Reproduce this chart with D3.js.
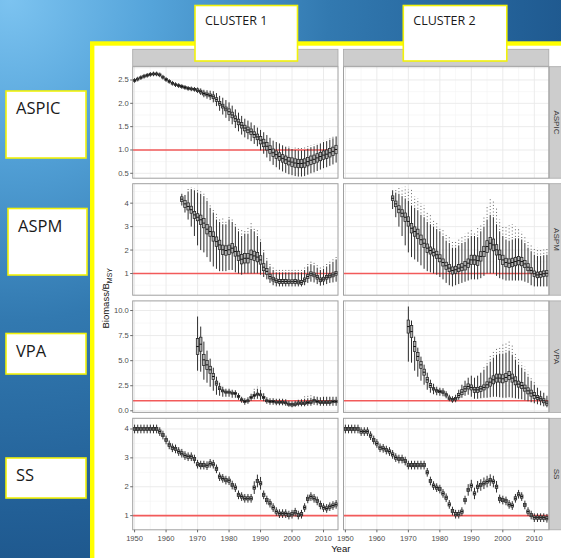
<!DOCTYPE html>
<html><head><meta charset="utf-8">
<script src="https://cdn.jsdelivr.net/npm/d3@7"></script>
<style>body{margin:0;overflow:hidden;background:#2a6ea4}</style></head>
<body><script>
// ---------------- DATA ----------------
const rowNames = ["ASPIC", "ASPM", "VPA", "SS"];
const colNames = ["CLUSTER 1", "CLUSTER 2"];
const xTicks = [1950, 1960, 1970, 1980, 1990, 2000, 2010];
const yTicks = [[0.5, 1.0, 1.5, 2.0, 2.5], [1, 2, 3, 4], [0, 2.5, 5, 7.5, 10], [1, 2, 3, 4]];
const yTickFmt = [".1f", "d", ".1f", "d"];
const refLine = 1;

// ASPIC, cluster 1 (1950-2014)
const aspicC1Med = [2.49,2.52,2.55,2.58,2.60,2.62,2.63,2.63,2.61,2.56,
 2.51,2.47,2.43,2.40,2.38,2.36,2.34,2.32,2.31,2.30,
 2.28,2.25,2.21,2.19,2.17,2.14,2.08,2.00,1.94,1.88,
 1.82,1.75,1.67,1.60,1.53,1.47,1.43,1.39,1.33,1.28,
 1.21,1.15,1.08,1.01,0.94,0.90,0.86,0.82,0.79,0.76,
 0.74,0.72,0.71,0.71,0.72,0.75,0.78,0.80,0.83,0.86,
 0.89,0.91,0.94,0.97,1.01];
const aspicC1Whisker = [0.05,0.05,0.05,0.05,0.05,0.05,0.05,0.05,0.05,0.05,
 0.05,0.05,0.05,0.05,0.05,0.05,0.05,0.05,0.05,0.05,
 0.06,0.07,0.08,0.09,0.10,0.12,0.14,0.16,0.18,0.19,
 0.20,0.20,0.20,0.20,0.20,0.20,0.20,0.20,0.20,0.20,
 0.22,0.23,0.24,0.25,0.26,0.27,0.28,0.28,0.28,0.28,
 0.28,0.28,0.28,0.28,0.28,0.28,0.28,0.28,0.28,0.28,
 0.28,0.28,0.28,0.28,0.28];
const aspicC1Box = [0.02,0.02,0.02,0.02,0.02,0.02,0.02,0.02,0.02,0.02,
 0.02,0.02,0.02,0.02,0.02,0.02,0.02,0.02,0.02,0.02,
 0.03,0.03,0.03,0.03,0.03,0.04,0.04,0.04,0.04,0.04,
 0.06,0.06,0.06,0.06,0.06,0.06,0.06,0.06,0.06,0.06,
 0.08,0.08,0.08,0.08,0.08,0.08,0.08,0.08,0.08,0.08,
 0.09,0.09,0.09,0.09,0.09,0.09,0.09,0.09,0.09,0.09,
 0.09,0.09,0.09,0.09,0.09];
const aspicC1Outlier = [0,0,0,0,0,0,0,0,0,0, 0,0,0,0,0,0,0,0,0,0,
 0,0,0,0,0,0,0,0,0,0, 0,0,0,0,0,0,0,0,0,0, 0,0,0,0,0,
 1.12,1.10,1.08,1.06,1.05,1.05,1.05,1.05,1.05,1.06,
 1.08,1.10,1.12,1.14,1.17,1.20,1.22,1.24,1.26,1.28];

// ASPM, cluster 1 (1965-2014)
const aspmC1Med = [4.17,3.97,3.86,3.72,3.50,3.40,3.29,3.15,2.89,2.79,
 2.58,2.36,2.22,2.01,1.98,2.01,2.08,1.94,1.75,1.61,
 1.65,1.65,1.80,1.75,1.70,1.58,1.27,1.09,0.87,0.76,
 0.69,0.66,0.66,0.66,0.65,0.65,0.66,0.64,0.62,0.73,
 0.87,0.99,0.94,0.84,0.73,0.76,0.84,0.90,0.94,1.01];
const aspmC1Lo = [3.90,3.60,3.30,3.00,2.60,2.20,2.00,1.90,1.70,1.50,
 1.30,1.20,1.10,1.10,1.10,1.15,1.15,1.05,1.00,0.95,
 1.00,1.00,1.00,1.00,1.00,0.95,0.85,0.75,0.60,0.50,
 0.45,0.45,0.45,0.45,0.45,0.45,0.45,0.45,0.45,0.50,
 0.60,0.65,0.62,0.55,0.48,0.50,0.55,0.60,0.62,0.65];
const aspmC1Hi = [4.40,4.35,4.50,4.60,4.55,4.45,4.40,4.30,4.10,3.80,
 3.60,3.30,3.20,3.10,3.10,3.30,3.20,3.00,2.80,2.60,
 2.70,2.70,2.90,2.80,2.60,2.35,1.90,1.55,1.30,1.15,
 1.05,1.05,1.05,1.05,1.05,1.05,1.05,1.05,1.05,1.15,
 1.30,1.40,1.35,1.25,1.15,1.20,1.30,1.40,1.50,1.60];
const aspmC1Box = [0.10,0.15,0.15,0.15,0.15,0.15,0.20,0.20,0.20,0.20,
 0.20,0.20,0.20,0.20,0.20,0.20,0.20,0.20,0.20,0.20,
 0.20,0.20,0.20,0.20,0.20,0.18,0.15,0.12,0.10,0.08,
 0.08,0.08,0.08,0.08,0.08,0.08,0.08,0.08,0.08,0.08,
 0.08,0.08,0.08,0.08,0.08,0.08,0.08,0.08,0.08,0.08];
const aspmC1Outlier = [0,4.30,4.65,4.65,4.60,4.60,4.50,4.40,4.20,4.00,
 3.80,3.60,3.40,3.35,3.30,3.45,3.30,3.15,3.00,2.90,
 2.90,3.00,3.20,3.00,2.85,2.50,2.00,1.70,1.45,1.30,
 1.20,1.20,1.20,1.20,1.20,1.20,1.20,1.20,1.20,1.30,
 1.45,1.55,1.50,1.40,1.30,1.35,1.45,1.55,1.65,1.70];

// ASPM, cluster 2 (1965-2014)
const aspmC2Med = [4.21,3.97,3.74,3.57,3.40,3.22,2.93,2.79,2.69,2.44,
 2.29,2.08,1.98,1.90,1.80,1.65,1.47,1.33,1.23,1.13,
 1.16,1.23,1.27,1.33,1.44,1.58,1.58,1.55,1.73,1.94,
 2.15,2.29,2.22,2.01,1.80,1.58,1.47,1.44,1.47,1.51,
 1.55,1.51,1.41,1.27,1.13,0.99,0.94,0.96,0.99,1.01];
const aspmC2Lo = [3.75,3.40,3.00,2.60,2.20,1.90,1.70,1.60,1.50,1.35,
 1.20,1.10,1.05,1.00,0.95,0.85,0.75,0.60,0.50,0.45,
 0.50,0.55,0.60,0.65,0.70,0.75,0.75,0.75,0.80,0.90,
 1.00,1.00,1.00,0.90,0.80,0.75,0.70,0.70,0.70,0.70,
 0.70,0.70,0.65,0.60,0.50,0.45,0.45,0.45,0.45,0.45];
const aspmC2Hi = [4.55,4.45,4.40,4.30,4.20,4.10,3.90,3.80,3.70,3.50,
 3.40,3.20,3.10,3.00,2.90,2.80,2.60,2.40,2.30,2.10,
 2.10,2.20,2.30,2.35,2.50,2.60,2.60,2.55,2.80,3.00,
 3.30,3.50,3.40,3.10,2.80,2.60,2.45,2.40,2.45,2.50,
 2.50,2.45,2.30,2.10,1.95,1.80,1.75,1.75,1.78,1.80];
const aspmC2Box = [0.10,0.12,0.15,0.15,0.18,0.20,0.20,0.20,0.20,0.20,
 0.18,0.18,0.15,0.15,0.15,0.15,0.15,0.15,0.15,0.15,
 0.15,0.15,0.15,0.18,0.18,0.20,0.20,0.20,0.20,0.22,
 0.25,0.25,0.25,0.22,0.20,0.20,0.18,0.18,0.18,0.18,
 0.18,0.18,0.15,0.15,0.12,0.12,0.12,0.12,0.12,0.12];
const aspmC2Outlier = [0,4.60,4.70,4.65,4.70,4.60,4.60,4.30,4.20,4.00,
 3.90,3.65,3.50,3.30,3.20,3.00,2.85,2.70,2.60,2.40,
 2.35,2.50,2.55,2.70,2.75,2.90,2.80,2.95,3.10,3.40,
 3.90,4.20,4.10,3.80,3.30,3.00,3.00,3.05,3.10,3.00,
 2.90,2.80,2.60,2.40,2.25,2.10,2.10,2.05,2.05,2.05];

// VPA, cluster 1 (1970-2014)
const vpaC1Med = [6.41,6.64,5.08,4.58,4.09,3.42,2.76,2.26,1.99,1.86,
 1.86,1.76,1.73,1.43,1.10,0.93,1.00,1.33,1.53,1.66,
 1.59,1.33,1.00,0.93,0.93,0.86,0.86,0.86,0.80,0.66,
 0.60,0.66,0.76,0.76,0.76,0.83,0.86,1.00,0.93,0.86,
 0.86,0.86,0.86,0.93,0.93];
const vpaC1Lo = [4.00,3.90,3.10,2.80,2.40,2.00,1.60,1.50,1.40,1.40,
 1.40,1.30,1.30,1.10,0.80,0.60,0.70,1.00,1.15,1.20,
 1.10,0.95,0.70,0.60,0.60,0.55,0.55,0.55,0.50,0.40,
 0.35,0.40,0.45,0.45,0.45,0.50,0.50,0.60,0.55,0.50,
 0.50,0.50,0.50,0.50,0.50];
const vpaC1Hi = [9.40,8.40,6.90,6.00,5.20,4.30,3.40,2.80,2.40,2.20,
 2.20,2.10,2.05,1.75,1.40,1.25,1.35,1.70,1.95,2.20,
 2.10,1.75,1.35,1.25,1.25,1.20,1.20,1.20,1.15,1.00,
 0.95,1.00,1.10,1.15,1.20,1.25,1.30,1.45,1.40,1.35,
 1.40,1.40,1.40,1.40,1.40];
const vpaC1Box = [0.80,0.70,0.55,0.45,0.35,0.30,0.20,0.15,0.10,0.10,
 0.10,0.10,0.10,0.10,0.10,0.10,0.10,0.10,0.10,0.10,
 0.10,0.10,0.10,0.10,0.10,0.10,0.10,0.10,0.10,0.10,
 0.12,0.12,0.12,0.12,0.12,0.12,0.12,0.12,0.12,0.12,
 0.12,0.12,0.12,0.12,0.12];
const vpaC1Outlier = [0,0,0,0,0,0,0,0,0,0,
 0,0,0,0,0,0,0,0,2.30,2.40,
 2.30,0,0,0,0,0,0,0,0,0,
 0,0,0,0,1.50,1.55,1.55,1.60,1.55,1.50,
 1.55,1.55,1.55,1.55,1.55];

// VPA, cluster 2 (1970-2014)
const vpaC2Med = [8.40,7.90,6.41,5.42,4.58,3.85,3.09,2.52,2.19,1.99,
 1.93,1.86,1.59,1.26,1.10,1.20,1.53,1.86,2.19,2.43,
 2.33,2.09,2.09,2.19,2.33,2.59,2.86,3.09,3.26,3.26,
 3.19,3.32,3.52,3.26,2.99,2.66,2.52,2.26,1.99,1.76,
 1.53,1.33,1.20,1.00,0.76];
const vpaC2Lo = [4.90,4.80,4.00,3.40,3.00,2.60,2.10,1.80,1.65,1.55,
 1.50,1.45,1.25,0.95,0.80,0.85,1.10,1.30,1.50,1.60,
 1.40,1.20,1.20,1.25,1.30,1.30,1.35,1.40,1.40,1.35,
 1.30,1.30,1.35,1.30,1.25,1.20,1.15,1.05,0.95,0.85,
 0.75,0.65,0.55,0.45,0.35];
const vpaC2Hi = [10.40,9.00,7.40,6.30,5.40,4.60,3.80,3.10,2.70,2.40,
 2.30,2.25,1.95,1.60,1.45,1.60,2.10,2.60,3.00,3.30,
 3.50,3.30,3.50,3.80,4.10,4.50,4.90,5.30,5.60,5.70,
 5.70,5.80,6.00,5.60,5.10,4.60,4.30,3.90,3.40,3.00,
 2.60,2.30,2.00,1.80,1.50];
const vpaC2Box = [0.65,0.60,0.50,0.40,0.35,0.30,0.25,0.20,0.12,0.12,
 0.12,0.12,0.12,0.12,0.12,0.12,0.20,0.25,0.25,0.25,
 0.25,0.25,0.25,0.25,0.25,0.30,0.40,0.40,0.40,0.40,
 0.40,0.40,0.40,0.40,0.40,0.30,0.30,0.30,0.30,0.30,
 0.30,0.20,0.20,0.20,0.20];
const vpaC2Outlier = [0,0,0,0,0,0,0,0,0,0,
 0,0,0,0,0,0,0,0,0,0,
 0,0,0,0,4.40,5.00,5.50,6.00,6.40,6.50,
 6.60,6.80,6.90,6.50,5.90,5.30,4.80,4.40,3.90,3.40,
 3.00,0,0,0,0];

// SS, cluster 1 (1950-2014)
const ssC1Med = [4.00,4.00,4.00,4.00,4.00,4.00,4.00,4.00,3.91,3.79,
 3.62,3.45,3.35,3.31,3.22,3.16,3.08,3.04,3.04,2.96,
 2.78,2.75,2.75,2.73,2.81,2.78,2.62,2.35,2.29,2.23,
 2.21,2.06,1.97,1.72,1.66,1.60,1.60,1.60,1.97,2.20,
 2.12,1.72,1.54,1.43,1.28,1.14,1.07,1.07,1.07,1.02,
 1.05,1.12,1.02,1.05,1.28,1.58,1.66,1.60,1.51,1.37,
 1.28,1.25,1.31,1.35,1.39];
const ssC1Whisker = [0.15,0.15,0.15,0.15,0.15,0.15,0.15,0.15,0.15,0.15,
 0.15,0.15,0.15,0.15,0.15,0.15,0.15,0.15,0.15,0.15,
 0.15,0.15,0.15,0.15,0.15,0.15,0.15,0.15,0.15,0.15,
 0.15,0.15,0.15,0.15,0.15,0.15,0.15,0.15,0.22,0.22,
 0.22,0.15,0.15,0.15,0.15,0.15,0.15,0.15,0.15,0.15,
 0.15,0.15,0.15,0.15,0.15,0.15,0.15,0.15,0.15,0.15,
 0.15,0.15,0.15,0.15,0.15];
const ssC1Box = 0.055;

// SS, cluster 2 (1950-2014)
const ssC2Med = [4.00,4.00,4.00,4.00,4.00,3.91,3.91,3.91,3.77,3.62,
 3.50,3.35,3.33,3.27,3.22,3.12,3.01,2.96,2.96,2.89,
 2.75,2.75,2.75,2.75,2.75,2.75,2.50,2.20,2.04,1.97,
 1.92,1.77,1.62,1.39,1.16,1.05,1.05,1.14,1.54,1.89,
 2.04,1.77,2.00,2.06,2.12,2.18,2.23,2.18,2.00,1.58,
 1.54,1.51,1.39,1.35,1.60,1.74,1.66,1.37,1.14,1.02,
 0.93,0.93,0.93,0.93,0.91];
const ssC2Whisker = [0.15,0.15,0.15,0.15,0.15,0.15,0.15,0.15,0.15,0.15,
 0.15,0.15,0.15,0.15,0.15,0.15,0.15,0.15,0.15,0.15,
 0.15,0.15,0.15,0.15,0.15,0.15,0.15,0.15,0.15,0.15,
 0.15,0.15,0.15,0.15,0.15,0.15,0.15,0.15,0.15,0.20,
 0.20,0.20,0.20,0.20,0.20,0.20,0.20,0.20,0.20,0.15,
 0.15,0.15,0.15,0.15,0.15,0.15,0.15,0.15,0.15,0.15,
 0.15,0.15,0.15,0.15,0.15];
const ssC2Box = 0.055;

// ---------------- BUILD ----------------
function sym(med, wh) { return { lo: med.map((m, i) => m - wh[i]), hi: med.map((m, i) => m + wh[i]) }; }
const aspicC1 = sym(aspicC1Med, aspicC1Whisker);
const ssC1 = sym(ssC1Med, ssC1Whisker);
const ssC2 = sym(ssC2Med, ssC2Whisker);
const panels = [
  { row: 0, col: 0, start: 1950, med: aspicC1Med, lo: aspicC1.lo, hi: aspicC1.hi, box: aspicC1Box, out: aspicC1Outlier },
  { row: 0, col: 1, start: null },
  { row: 1, col: 0, start: 1965, med: aspmC1Med, lo: aspmC1Lo, hi: aspmC1Hi, box: aspmC1Box, out: aspmC1Outlier },
  { row: 1, col: 1, start: 1965, med: aspmC2Med, lo: aspmC2Lo, hi: aspmC2Hi, box: aspmC2Box, out: aspmC2Outlier },
  { row: 2, col: 0, start: 1970, med: vpaC1Med, lo: vpaC1Lo, hi: vpaC1Hi, box: vpaC1Box, out: vpaC1Outlier },
  { row: 2, col: 1, start: 1970, med: vpaC2Med, lo: vpaC2Lo, hi: vpaC2Hi, box: vpaC2Box, out: vpaC2Outlier },
  { row: 3, col: 0, start: 1950, med: ssC1Med, lo: ssC1.lo, hi: ssC1.hi, box: ssC1Box, out: null },
  { row: 3, col: 1, start: 1950, med: ssC2Med, lo: ssC2.lo, hi: ssC2.hi, box: ssC2Box, out: null }
];

// ---------------- LAYOUT ----------------
const W = 561, H = 558;
const colX = [132.7, 343.5], panelW = 205.3;
const rowY = [66.7, 183.7, 300.9, 418.3], panelH = 111.5;
const xDomain = [1949.4, 2014.6];
const yDomains = [[0.395, 2.785], [0.075, 4.83], [-0.16, 10.96], [0.51, 4.37]];
const tickFont = "Liberation Sans, Arial, sans-serif";

const svg = d3.select("body").append("svg").attr("width", W).attr("height", H);
const defs = svg.append("defs");
const rg = defs.append("radialGradient").attr("id", "bg").attr("gradientUnits", "userSpaceOnUse")
  .attr("cx", 10).attr("cy", 0).attr("r", 640);
[[0, "#7cc3f0"], [0.22, "#55a4da"], [0.5, "#3279b0"], [0.8, "#225f96"], [1, "#1a4f83"]]
  .forEach(([o, c]) => rg.append("stop").attr("offset", o).attr("stop-color", c));
svg.append("rect").attr("width", W).attr("height", H).attr("fill", "url(#bg)");

// yellow frame with white interior
svg.append("rect").attr("x", 92.2).attr("y", 43.5).attr("width", 600).attr("height", 600)
  .attr("fill", "#ffffff").attr("stroke", "#ffff00").attr("stroke-width", 4.4);

const g = svg.append("g");

// top strips
colX.forEach(x0 => {
  g.append("rect").attr("x", x0).attr("y", 49.3).attr("width", panelW).attr("height", 16.9)
    .attr("fill", "#cdcdcd").attr("stroke", "#a8a8a8").attr("stroke-width", 0.8);
});
// right strips
rowY.forEach((y0, r) => {
  g.append("rect").attr("x", 549.3).attr("y", y0).attr("width", 17).attr("height", panelH)
    .attr("fill", "#cdcdcd").attr("stroke", "#a8a8a8").attr("stroke-width", 0.8);
  g.append("text").attr("transform", `translate(${556.3},${y0 + panelH / 2}) rotate(90)`)
    .attr("text-anchor", "middle").attr("dominant-baseline", "central")
    .attr("font-family", tickFont).attr("font-size", 8).attr("fill", "#3a3a3a").text(rowNames[r]);
});

const bwYears = 0.8;

panels.forEach(p => {
  const x0 = colX[p.col], y0 = rowY[p.row];
  const xs = d3.scaleLinear().domain(xDomain).range([x0, x0 + panelW]);
  const ys = d3.scaleLinear().domain(yDomains[p.row]).range([y0 + panelH, y0]);
  const pg = g.append("g");
  const clipId = `clip${p.row}${p.col}`;
  defs.append("clipPath").attr("id", clipId).append("rect")
    .attr("x", x0).attr("y", y0).attr("width", panelW).attr("height", panelH);
  pg.append("rect").attr("x", x0).attr("y", y0).attr("width", panelW).attr("height", panelH).attr("fill", "#fff");

  // grid minor
  const yt = yTicks[p.row];
  const ystep = yt[1] - yt[0];
  const yMinor = [];
  yt.forEach(t => { yMinor.push(t - ystep / 2); });
  yMinor.push(yt[yt.length - 1] + ystep / 2);
  const dom = yDomains[p.row];
  const inner = pg.append("g").attr("clip-path", `url(#${clipId})`);
  yMinor.filter(v => v > dom[0] && v < dom[1]).forEach(v => {
    inner.append("line").attr("x1", x0).attr("x2", x0 + panelW).attr("y1", ys(v)).attr("y2", ys(v))
      .attr("stroke", "#f4f4f4").attr("stroke-width", 0.6);
  });
  const xMinor = xTicks.map(t => t + 5).filter(v => v < xDomain[1]);
  xMinor.forEach(v => {
    inner.append("line").attr("x1", xs(v)).attr("x2", xs(v)).attr("y1", y0).attr("y2", y0 + panelH)
      .attr("stroke", "#f4f4f4").attr("stroke-width", 0.6);
  });
  yt.forEach(v => {
    inner.append("line").attr("x1", x0).attr("x2", x0 + panelW).attr("y1", ys(v)).attr("y2", ys(v))
      .attr("stroke", "#e9e9e9").attr("stroke-width", 0.9);
  });
  xTicks.forEach(v => {
    inner.append("line").attr("x1", xs(v)).attr("x2", xs(v)).attr("y1", y0).attr("y2", y0 + panelH)
      .attr("stroke", "#e9e9e9").attr("stroke-width", 0.9);
  });

  if (p.start !== null) {
    // reference line
    inner.append("line").attr("x1", x0).attr("x2", x0 + panelW).attr("y1", ys(refLine)).attr("y2", ys(refLine))
      .attr("stroke", "#f25a5a").attr("stroke-width", 1.6);
    const bw = xs(xDomain[0] + bwYears) - xs(xDomain[0]);
    p.med.forEach((m, i) => {
      const yr = p.start + i, cx = xs(yr);
      const bh = Array.isArray(p.box) ? p.box[i] : p.box;
      if (p.out && p.out[i] > p.hi[i]) {
        inner.append("line").attr("x1", cx).attr("x2", cx).attr("y1", ys(p.hi[i]) - 1.5).attr("y2", ys(p.out[i]))
          .attr("stroke", "#444").attr("stroke-width", 0.9).attr("stroke-dasharray", "0.9,2.4");
      }
      inner.append("line").attr("x1", cx).attr("x2", cx).attr("y1", ys(p.lo[i])).attr("y2", ys(p.hi[i]))
        .attr("stroke", "#2e2e2e").attr("stroke-width", 1);
      inner.append("rect").attr("x", cx - bw / 2).attr("width", bw)
        .attr("y", ys(m + bh)).attr("height", Math.max(0.8, ys(m - bh) - ys(m + bh)))
        .attr("fill", "#b4b4b4").attr("stroke", "#222").attr("stroke-width", 0.75);
      inner.append("line").attr("x1", cx - bw / 2).attr("x2", cx + bw / 2).attr("y1", ys(m)).attr("y2", ys(m))
        .attr("stroke", "#111").attr("stroke-width", 1);
    });
  }
  // border
  pg.append("rect").attr("x", x0).attr("y", y0).attr("width", panelW).attr("height", panelH)
    .attr("fill", "none").attr("stroke", "#a0a0a0").attr("stroke-width", 1);

  // y axis on left column
  if (p.col === 0) {
    const fmt = d3.format(yTickFmt[p.row]);
    yt.forEach(v => {
      pg.append("line").attr("x1", x0 - 2.5).attr("x2", x0).attr("y1", ys(v)).attr("y2", ys(v))
        .attr("stroke", "#444").attr("stroke-width", 0.8);
      pg.append("text").attr("x", x0 - 4).attr("y", ys(v)).attr("text-anchor", "end")
        .attr("dominant-baseline", "central").attr("font-family", tickFont).attr("font-size", 7.6)
        .attr("fill", "#4d4d4d").text(fmt(v));
    });
  }
  // x axis on bottom row
  if (p.row === 3) {
    xTicks.forEach(v => {
      pg.append("line").attr("x1", xs(v)).attr("x2", xs(v)).attr("y1", y0 + panelH).attr("y2", y0 + panelH + 2.5)
        .attr("stroke", "#444").attr("stroke-width", 0.8);
      pg.append("text").attr("x", xs(v)).attr("y", y0 + panelH + 8.2).attr("text-anchor", "middle")
        .attr("dominant-baseline", "central").attr("font-family", tickFont).attr("font-size", 7.6)
        .attr("fill", "#4d4d4d").text(v);
    });
  }
});

// axis titles
g.append("text").attr("x", (colX[0] + colX[1] + panelW) / 2).attr("y", 552).attr("text-anchor", "middle")
  .attr("font-family", tickFont).attr("font-size", 9.5).attr("fill", "#111").text("Year");
const yt = g.append("text").attr("transform", `translate(109,${(rowY[0] + rowY[3] + panelH) / 2}) rotate(-90)`)
  .attr("text-anchor", "middle").attr("font-family", tickFont).attr("font-size", 9.5).attr("fill", "#111");
yt.append("tspan").text("Biomass/B");
yt.append("tspan").attr("font-size", 7).attr("dy", 2.5).text("MSY");

// overlay label boxes
const labelFont = "'Open Sans', 'Noto Sans', sans-serif";
const clusterBoxes = [[195, 5.5, 102.5, 55.5], [403.3, 5.5, 103.5, 55.5]];
clusterBoxes.forEach(([x, y, w, h], i) => {
  svg.append("rect").attr("x", x).attr("y", y).attr("width", w).attr("height", h)
    .attr("fill", "#fff").attr("stroke", "#f2f20a").attr("stroke-width", 1.6);
  svg.append("text").attr("x", x + 10).attr("y", y + 19.5).attr("font-family", labelFont)
    .attr("font-size", 12.5).attr("fill", "#1a1a1a").text(colNames[i]);
});
const rowBoxes = [[6, 91, 80, 67], [8, 208.5, 79, 66.5], [6, 333.5, 80, 40.5], [6, 458, 80, 40]];
rowBoxes.forEach(([x, y, w, h], i) => {
  svg.append("rect").attr("x", x).attr("y", y).attr("width", w).attr("height", h)
    .attr("fill", "#fff").attr("stroke", "#f2f20a").attr("stroke-width", 1.6);
  svg.append("text").attr("x", x + 10).attr("y", y + 23).attr("font-family", labelFont)
    .attr("font-size", 16.5).attr("fill", "#1a1a1a").text(rowNames[i]);
});
</script></body></html>
